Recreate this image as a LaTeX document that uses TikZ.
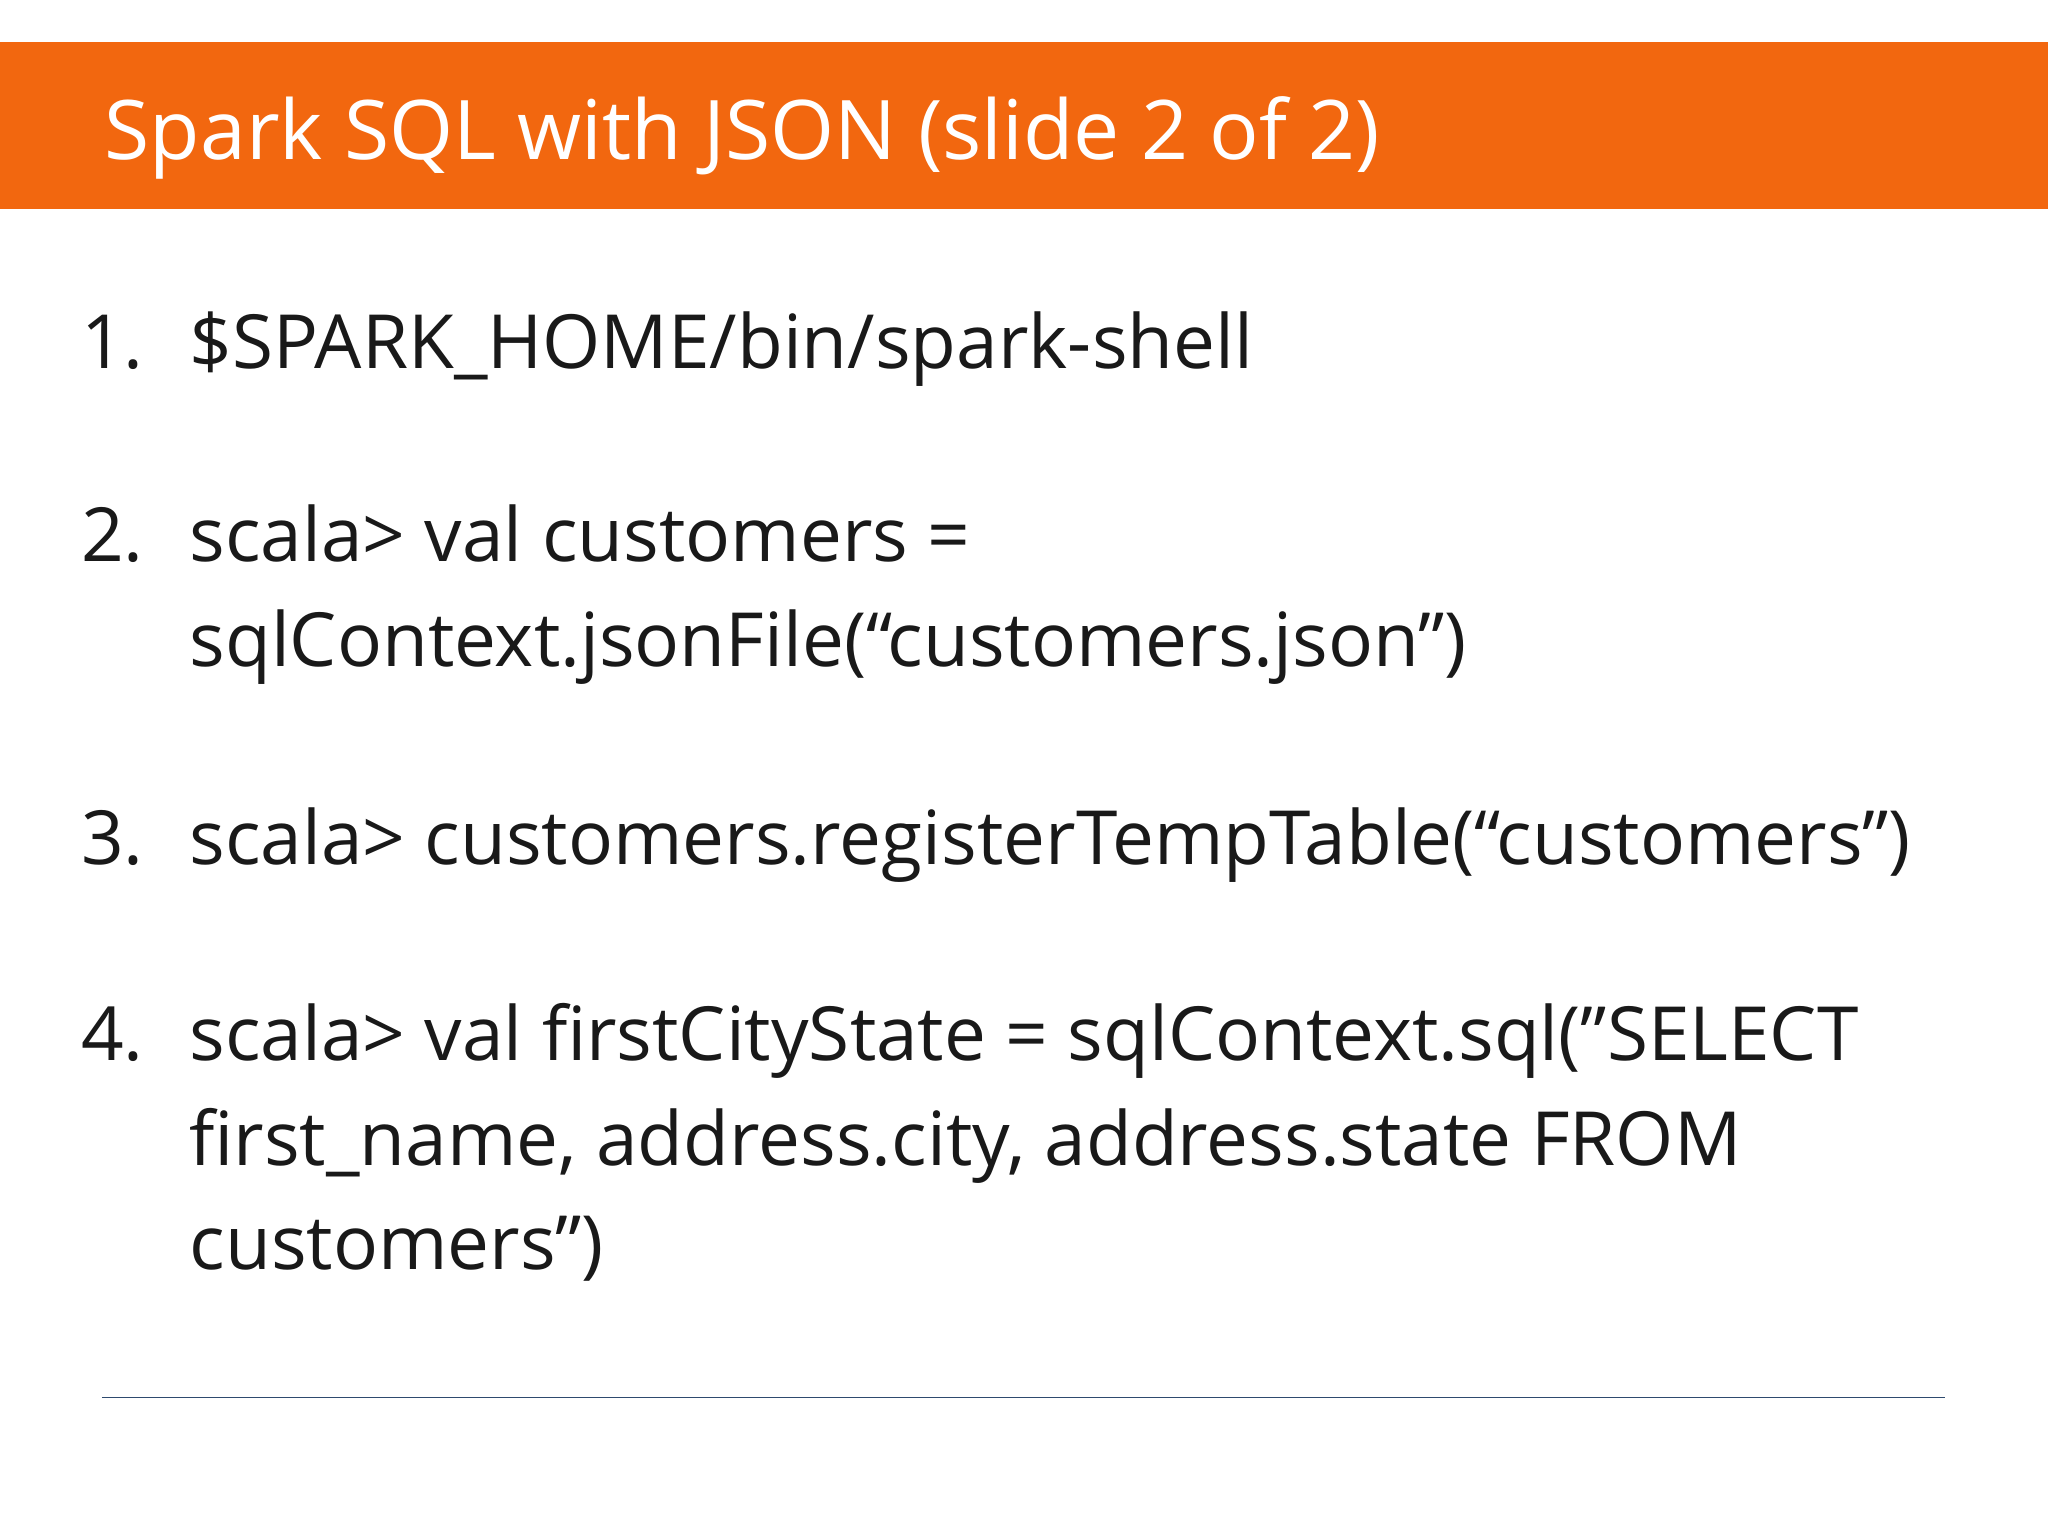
\documentclass[tikz,border=0pt]{standalone}
\usepackage{fontspec}
\setmainfont{Open Sans}[Ligatures=ResetAll]
\newcommand{\dq}{\char"22\relax}
\begin{document}
\begin{tikzpicture}[x=1pt,y=-1pt,
  body/.style={anchor=base west,inner sep=0pt,font=\fontsize{57.2}{70}\selectfont,text=black!90},
  num/.style={body}]
\definecolor{barorange}{HTML}{F2670F}
\definecolor{rulecol}{HTML}{2E4A6E}
\useasboundingbox (0,0) rectangle (1568,1176);
\fill[white] (0,0) rectangle (1568,1176);
\fill[barorange] (0,32) rectangle (1568,160);
\node[anchor=base west,inner sep=0pt,text=white,font=\fontsize{63}{75}\selectfont] (title) at (80,122) {Spark SQL with JSON (slide 2 of 2)};
\node[num] (n1) at (62,282) {1.};
\node[body] (l1) at (145,282) {\$SPARK\_HOME/bin/spark-shell};
\node[num] (n2) at (62,430) {2.};
\node[body] (l2a) at (145,430) {scala> val customers =};
\node[body] (l2b) at (145,510) {sqlContext.jsonFile(“customers.json\dq)};
\node[num] (n3) at (62,662) {3.};
\node[body] (l3) at (145,662) {scala> customers.registerTempTable(“customers\dq)};
\node[num] (n4) at (62,812) {4.};
\node[body] (l4a) at (145,812) {scala> val firstCityState = sqlContext.sql(\dq SELECT};
\node[body] (l4b) at (145,892) {first\_name, address.city, address.state FROM};
\node[body] (l4c) at (145,972) {customers\dq)};
\draw[rulecol,line width=1.3pt] (78,1070) -- (1489,1070);
\end{tikzpicture}
\end{document}
